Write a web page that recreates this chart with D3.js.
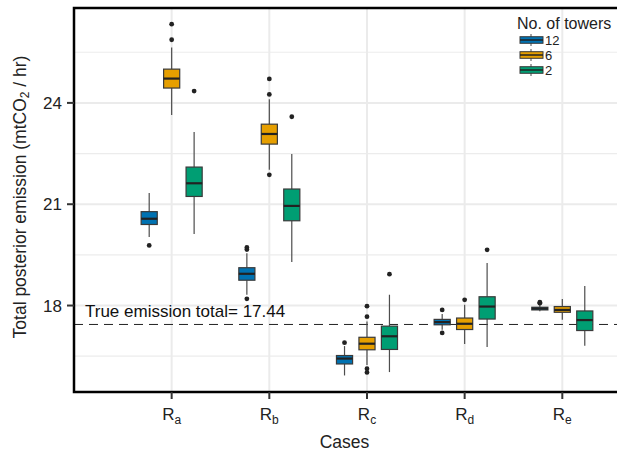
<!DOCTYPE html>
<html>
<head>
<meta charset="utf-8">
<script src="https://cdnjs.cloudflare.com/ajax/libs/d3/7.8.5/d3.min.js"></script>
<style>
  body { margin: 0; background: white; }
  svg { display: block; font-family: "Liberation Sans", Arial, Helvetica, sans-serif; }
</style>
</head>
<body>
<div id="chart"></div>
<script>
// data
const cases = ["a", "b", "c", "d", "e"];
const towers = ["12", "6", "2"];
const colors = ["#0072B2", "#E69F00", "#009E73"];
const yTicks = [18, 21, 24];
const trueTotal = 17.44;

// [lower whisker, q1, median, q3, upper whisker] per case
const stats12 = [
    [20.03, 20.40, 20.57, 20.78, 21.33],
    [18.32, 18.75, 18.94, 19.12, 19.55],
    [15.93, 16.27, 16.43, 16.52, 16.80],
    [17.28, 17.43, 17.51, 17.59, 17.75],
    [17.83, 17.87, 17.91, 17.95, 18.02]
];
const stats6 = [
    [23.64, 24.44, 24.72, 25.00, 25.64],
    [22.02, 22.78, 23.08, 23.37, 24.11],
    [16.24, 16.69, 16.87, 17.06, 17.53],
    [16.86, 17.29, 17.46, 17.63, 18.02],
    [17.58, 17.80, 17.87, 17.97, 18.19]
];
const stats2 = [
    [20.12, 21.23, 21.62, 22.10, 23.14],
    [19.29, 20.51, 20.95, 21.45, 22.49],
    [16.03, 16.70, 17.09, 17.39, 18.32],
    [16.77, 17.60, 17.97, 18.26, 19.26],
    [16.81, 17.26, 17.57, 17.84, 18.58]
];
const outliers12 = [[19.78], [19.66, 19.72, 18.20], [16.90], [17.87, 17.19], [18.07, 18.10]];
const outliers6 = [[25.87, 26.33], [24.25, 24.71, 21.87], [17.67, 17.98, 16.13, 16.02], [18.17], []];
const outliers2 = [[24.35], [23.59], [18.93], [19.65], []];

const allStats = [stats12, stats6, stats2];
const allOutliers = [outliers12, outliers6, outliers2];

// dimensions
const width = 617,
    height = 452,
    margin = { top: 8, right: 0, bottom: 60, left: 74 };

const svg = d3.select("#chart")
    .append("svg")
    .attr("width", width)
    .attr("height", height);

// scales
const x = d3.scaleLinear()
    .domain([0, 5.56])
    .range([margin.left, width - margin.right]);

const y = d3.scaleLinear()
    .domain([15.44, 26.81])
    .range([height - margin.bottom, margin.top]);

const dodge = [-0.23, 0, 0.23];
const boxW = 0.165;

// grid
const grid = svg.append("g");
const minorTicks = [16.5, 19.5, 22.5, 25.5];
grid.selectAll(".minor")
    .data(minorTicks)
    .enter().append("line")
    .attr("x1", margin.left).attr("x2", width)
    .attr("y1", d => y(d)).attr("y2", d => y(d))
    .attr("stroke", "#ececec").attr("stroke-width", 1.2);
grid.selectAll(".major")
    .data(yTicks)
    .enter().append("line")
    .attr("x1", margin.left).attr("x2", width)
    .attr("y1", d => y(d)).attr("y2", d => y(d))
    .attr("stroke", "#ebebeb").attr("stroke-width", 2);
grid.selectAll(".vmajor")
    .data(cases)
    .enter().append("line")
    .attr("x1", (d, i) => x(i + 1)).attr("x2", (d, i) => x(i + 1))
    .attr("y1", margin.top).attr("y2", height - margin.bottom)
    .attr("stroke", "#ebebeb").attr("stroke-width", 2);

// true emission line
svg.append("line")
    .attr("x1", margin.left).attr("x2", width)
    .attr("y1", y(trueTotal)).attr("y2", y(trueTotal))
    .attr("stroke", "#222").attr("stroke-width", 1)
    .attr("stroke-dasharray", "9,6");

svg.append("text")
    .attr("x", 85)
    .attr("y", y(trueTotal) - 7)
    .attr("font-size", 17)
    .attr("fill", "#111")
    .text("True emission total= " + trueTotal);

// boxplots
towers.forEach((t, k) => {
    const g = svg.append("g");
    const stats = allStats[k];
    stats.forEach((s, i) => {
        const cx = x(i + 1 + dodge[k]);
        const hw = (x(boxW) - x(0)) / 2;
        // whiskers
        g.append("line")
            .attr("x1", cx).attr("x2", cx)
            .attr("y1", y(s[4])).attr("y2", y(s[3]))
            .attr("stroke", "#4d4d4d").attr("stroke-width", 1.2);
        g.append("line")
            .attr("x1", cx).attr("x2", cx)
            .attr("y1", y(s[1])).attr("y2", y(s[0]))
            .attr("stroke", "#4d4d4d").attr("stroke-width", 1.2);
        // box
        g.append("rect")
            .attr("x", cx - hw)
            .attr("y", y(s[3]))
            .attr("width", hw * 2)
            .attr("height", y(s[1]) - y(s[3]))
            .attr("fill", colors[k])
            .attr("stroke", "#3a3a3a")
            .attr("stroke-width", 1.2);
        // median
        g.append("line")
            .attr("x1", cx - hw).attr("x2", cx + hw)
            .attr("y1", y(s[2])).attr("y2", y(s[2]))
            .attr("stroke", "#222").attr("stroke-width", 2.2);
        // outliers
        g.selectAll(".out" + i)
            .data(allOutliers[k][i])
            .enter().append("circle")
            .attr("cx", cx)
            .attr("cy", d => y(d))
            .attr("r", 2.4)
            .attr("fill", "#222");
    });
});

// panel border (left, top, bottom)
svg.append("path")
    .attr("d", `M${width},${margin.top}H${margin.left}V${height - margin.bottom}H${width}`)
    .attr("fill", "none")
    .attr("stroke", "#000")
    .attr("stroke-width", 2.5);

// y axis ticks
const yAxis = svg.append("g");
yAxis.selectAll("line")
    .data(yTicks)
    .enter().append("line")
    .attr("x1", margin.left - 7).attr("x2", margin.left)
    .attr("y1", d => y(d)).attr("y2", d => y(d))
    .attr("stroke", "#333").attr("stroke-width", 2);
yAxis.selectAll("text")
    .data(yTicks)
    .enter().append("text")
    .attr("x", margin.left - 12)
    .attr("y", d => y(d))
    .attr("dy", "0.36em")
    .attr("text-anchor", "end")
    .attr("font-size", 17)
    .attr("fill", "#222")
    .text(d => d);

// x axis ticks
const xAxis = svg.append("g");
xAxis.selectAll("line")
    .data(cases)
    .enter().append("line")
    .attr("x1", (d, i) => x(i + 1)).attr("x2", (d, i) => x(i + 1))
    .attr("y1", height - margin.bottom).attr("y2", height - margin.bottom + 7)
    .attr("stroke", "#333").attr("stroke-width", 2);
const xl = xAxis.selectAll("text")
    .data(cases)
    .enter().append("text")
    .attr("x", (d, i) => x(i + 1))
    .attr("y", 420)
    .attr("text-anchor", "middle")
    .attr("font-size", 17)
    .attr("fill", "#222");
xl.append("tspan").text("R");
xl.append("tspan").attr("font-size", 12).attr("dy", 4).text(d => d);

// axis titles
svg.append("text")
    .attr("x", (margin.left + width) / 2 - 1)
    .attr("y", 448)
    .attr("text-anchor", "middle")
    .attr("font-size", 17.5)
    .attr("fill", "#222")
    .text("Cases");

const yt = svg.append("text")
    .attr("transform", `translate(26,${(margin.top + height - margin.bottom) / 2 - 3}) rotate(-90)`)
    .attr("text-anchor", "middle")
    .attr("font-size", 17.5)
    .attr("fill", "#222");
yt.append("tspan").text("Total posterior emission (mtCO");
yt.append("tspan").attr("font-size", 12).attr("dy", 3).text("2");
yt.append("tspan").attr("dy", -3).text(" / hr)");

// legend
const legend = svg.append("g").attr("transform", "translate(517,0)");
legend.append("text")
    .attr("x", 0).attr("y", 29)
    .attr("font-size", 16)
    .attr("fill", "#222")
    .text("No. of towers");
const rows = legend.selectAll(".row")
    .data(towers)
    .enter().append("g")
    .attr("transform", (d, i) => `translate(0,${40 + i * 15})`);
rows.append("line")
    .attr("x1", 14).attr("x2", 14).attr("y1", -6).attr("y2", 6)
    .attr("stroke", "#4d4d4d").attr("stroke-width", 1);
rows.append("rect")
    .attr("x", 3).attr("y", -3.3).attr("width", 23).attr("height", 6.6)
    .attr("fill", (d, i) => colors[i])
    .attr("stroke", "#3a3a3a").attr("stroke-width", 1);
rows.append("line")
    .attr("x1", 3).attr("x2", 26).attr("y1", 0).attr("y2", 0)
    .attr("stroke", "#222").attr("stroke-width", 1.5);
rows.append("text")
    .attr("x", 28).attr("y", 0).attr("dy", "0.36em")
    .attr("font-size", 13)
    .attr("fill", "#222")
    .text(d => d);
</script>
</body>
</html>
